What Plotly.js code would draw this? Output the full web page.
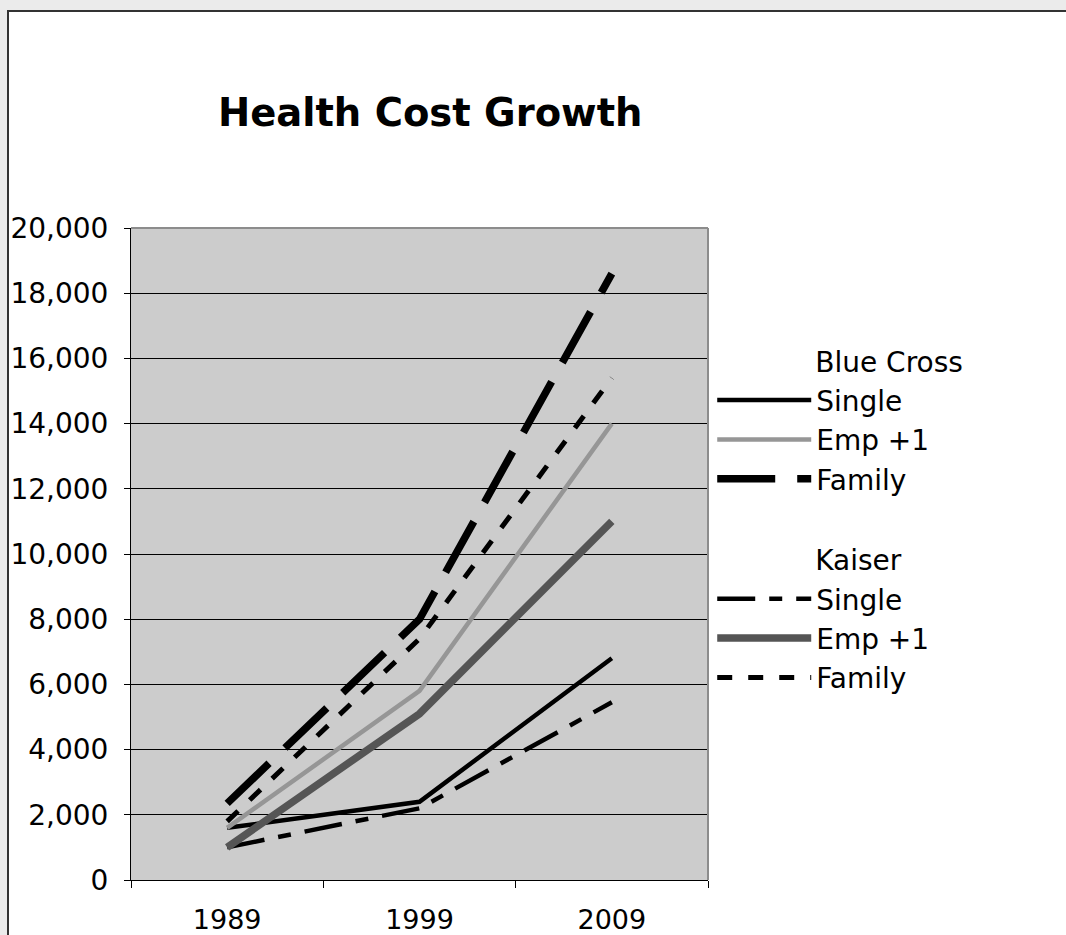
<!DOCTYPE html>
<html>
<head>
<meta charset="utf-8">
<script src="https://cdn.plot.ly/plotly-3.0.1.min.js"></script>
<style>
  html, body { margin: 0; padding: 0; background: #ebebeb; width: 1066px; height: 935px; overflow: hidden; }
  #frame { position: absolute; left: 7px; top: 10px; width: 1057px; height: 923px;
           border-left: 2px solid #333; border-top: 2px solid #333; background: #fff; }
  #chart { width: 1057px; height: 923px; }
</style>
</head>
<body>
<div id="frame"><div id="chart"></div></div>
<script>
// ---- data ----
const years = ["1989", "1999", "2009"];
const bcSingle   = [1600, 2400, 6800];
const bcEmp1     = [1600, 5800, 14000];
const bcFamily   = [2350, 8000, 18600];
const kSingle    = [1000, 2200, 5450];
const kEmp1      = [1000, 5100, 11000];
const kFamily    = [1800, 7400, 15400];
const groupNames = ["Blue Cross", "Kaiser"];
const itemNames  = ["Single", "Emp +1", "Family"];

const FONT = "DejaVu Sans, Verdana, sans-serif";
// indent so the group titles line up with the item texts, as in the reference
const INDENT = "\u2003\u2003\u2003\u2002";

function tr(y, gi, idx, line) {
  const t = {
    x: years, y: y, type: "scatter", mode: "lines",
    name: itemNames[idx],
    legendgroup: groupNames[gi],
    line: line,
    hoverinfo: "x+y+name"
  };
  if (idx === 0) t.legendgrouptitle = { text: INDENT + groupNames[gi], font: { family: FONT, size: 28, color: "#000" } };
  return t;
}

const traces = [
  tr(bcSingle, 0, 0, { color: "#000000", width: 4.5 }),
  tr(bcEmp1,   0, 1, { color: "#969696", width: 4.5 }),
  tr(bcFamily, 0, 2, { color: "#000000", width: 7.5, dash: "58px,22px" }),
  tr(kSingle,  1, 0, { color: "#000000", width: 4.5, dash: "38px,14px,13px,14px" }),
  tr(kEmp1,    1, 1, { color: "#555555", width: 7.5 }),
  tr(kFamily,  1, 2, { color: "#000000", width: 5, dash: "15px,16px" })
];

const layout = {
  width: 1057, height: 923,
  margin: { l: 122, r: 358, t: 216, b: 55 },
  paper_bgcolor: "#ffffff",
  plot_bgcolor: "#cccccc",
  font: { family: FONT, color: "#000" },
  title: {
    text: "<b>Health Cost Growth</b>",
    font: { family: FONT, size: 38.5, color: "#000" },
    x: 0.3985, xanchor: "center", xref: "container",
    y: 0.891, yanchor: "middle", yref: "container"
  },
  xaxis: {
    type: "category",
    range: [-0.5, 2.5],
    tickson: "boundaries",
    ticks: "outside", ticklen: 7, tickcolor: "#000", tickwidth: 1,
    showline: true, linecolor: "#000", linewidth: 1,
    showgrid: false, zeroline: false,
    tickfont: { family: FONT, size: 27, color: "#000" },
    ticklabelstandoff: 16,
    fixedrange: true
  },
  yaxis: {
    range: [0, 20000], dtick: 2000, tick0: 0,
    tickformat: ",d",
    ticks: "outside", ticklen: 6, tickcolor: "#000", tickwidth: 1,
    showline: true, linecolor: "#000", linewidth: 1,
    showgrid: true, gridcolor: "#000", gridwidth: 1,
    zeroline: false,
    tickfont: { family: FONT, size: 28, color: "#000" },
    ticklabelstandoff: 10,
    fixedrange: true
  },
  shapes: [
    { type: "line", xref: "paper", yref: "paper", x0: 0, x1: 1, y0: 1, y1: 1, line: { color: "#8c8c8c", width: 2 } },
    { type: "line", xref: "paper", yref: "paper", x0: 1, x1: 1, y0: 0, y1: 1, line: { color: "#8c8c8c", width: 2 } }
  ],
  showlegend: true,
  legend: {
    xref: "container", yref: "container",
    x: 0.6653, y: 0.649, xanchor: "left", yanchor: "top",
    font: { family: FONT, size: 28, color: "#000" },
    bgcolor: "rgba(0,0,0,0)",
    borderwidth: 0,
    itemwidth: 94,
    tracegroupgap: 41,
    traceorder: "grouped"
  }
};

Plotly.newPlot("chart", traces, layout, { displayModeBar: false, staticPlot: true });
</script>
</body>
</html>
